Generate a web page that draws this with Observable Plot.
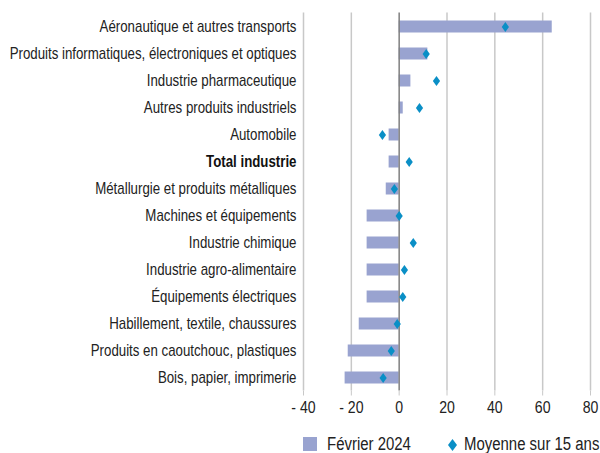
<!DOCTYPE html>
<html>
<head>
<meta charset="utf-8">
<script src="https://cdn.jsdelivr.net/npm/d3@7"></script>
<script src="https://cdn.jsdelivr.net/npm/@observablehq/plot@0.6"></script>
<style>
  body { margin: 0; background: #fff; font-family: "Liberation Sans", Arial, sans-serif; }
  #wrap { position: relative; width: 600px; height: 453px; overflow: hidden; }
  #legend { position: absolute; left: 0; top: 428px; width: 600px; height: 25px; font-size: 18px; line-height: 20px; color: #222; }
  .sw { position: absolute; }
  .lt { position: absolute; top: 6px; white-space: nowrap; transform: scaleX(0.83); transform-origin: left center; }
</style>
</head>
<body>
<div id="wrap">
  <div id="chart"></div>
  <div id="legend">
    <div class="sw" style="left:303px;top:9px;width:14px;height:14px;background:#99a3d0"></div>
    <div class="lt" style="left:327px;">Février 2024</div>
    <svg class="sw" style="left:447px;top:10px" width="11" height="14"><path d="M5.5,1L10,7L5.5,13L1,7Z" fill="#0a8fc6"/></svg>
    <div class="lt" style="left:464px;">Moyenne sur 15 ans</div>
  </div>
</div>
<script>
const categories = [
  "Aéronautique et autres transports",
  "Produits informatiques, électroniques et optiques",
  "Industrie pharmaceutique",
  "Autres produits industriels",
  "Automobile",
  "Total industrie",
  "Métallurgie et produits métalliques",
  "Machines et équipements",
  "Industrie chimique",
  "Industrie agro-alimentaire",
  "Équipements électriques",
  "Habillement, textile, chaussures",
  "Produits en caoutchouc, plastiques",
  "Bois, papier, imprimerie"
];
const fevrier2024 = [64, 12, 4.9, 1.7, -4.2, -4.2, -5.4, -13.4, -13.4, -13.4, -13.4, -16.7, -21.3, -22.6];
const moyenne15ans = [44.4, 11.3, 15.6, 8.5, -7, 4.2, -2, 0, 5.9, 2.2, 1.5, -0.8, -3.3, -6.7];
const xTicks = [-40, -20, 0, 20, 40, 60, 80];
const boldCategory = "Total industrie";

const data = categories.map((c, i) => ({cat: c, feb: fevrier2024[i], avg: moyenne15ans[i]}));

const diamond = {
  draw(context, size) {
    const r = Math.sqrt(size / Math.PI);
    const hw = r * 0.72, hh = r;
    context.moveTo(0, -hh);
    context.lineTo(hw, 0);
    context.lineTo(0, hh);
    context.lineTo(-hw, 0);
    context.closePath();
  }
};

const fmt = d => d < 0 ? "- " + Math.abs(d) : String(d);

const chart = Plot.plot({
  width: 600,
  height: 425,
  marginLeft: 303,
  marginRight: 10,
  marginTop: 12.5,
  marginBottom: 34.5,
  style: {fontFamily: '"Liberation Sans", Arial, sans-serif', fontSize: "16px", color: "#222", background: "#fff"},
  x: {domain: [-40, 80], ticks: xTicks, tickFormat: fmt},
  y: {domain: categories, padding: 0, axis: null},
  marks: [
    Plot.ruleX(xTicks.filter(d => d !== 0), {stroke: "#c8c8c8", strokeWidth: 1.5, strokeOpacity: 1}),
    Plot.barX(data, {x: "feb", y: "cat", fill: "#99a3d0", insetTop: 7.5, insetBottom: 7.5}),
    Plot.ruleX([0], {stroke: "#7f7f7f", strokeWidth: 1.5}),
    Plot.dot(data, {x: "avg", y: "cat", symbol: diamond, r: 5, fill: "#0a8fc6", stroke: null}),
    Plot.text(data.filter(d => d.cat !== boldCategory), {y: "cat", text: "cat", frameAnchor: "left", textAnchor: "end", dx: -7, fill: "#222", fontSize: 16}),
    Plot.text(data.filter(d => d.cat === boldCategory), {y: "cat", text: "cat", frameAnchor: "left", textAnchor: "end", dx: -7, fill: "#111", fontSize: 16, fontWeight: "bold"}),
    Plot.axisX({ticks: xTicks, tickFormat: fmt, tickSize: 5, tickPadding: 5, stroke: "#c8c8c8", fontSize: 17, fill: "#222"})
  ]
});
// condense text horizontally to mimic a narrow typeface
chart.querySelectorAll("text").forEach(t => {
  const tr = t.getAttribute("transform") || "";
  t.setAttribute("transform", (tr + " scale(0.83,1)").trim());
});
document.getElementById("chart").appendChild(chart);
</script>
</body>
</html>
